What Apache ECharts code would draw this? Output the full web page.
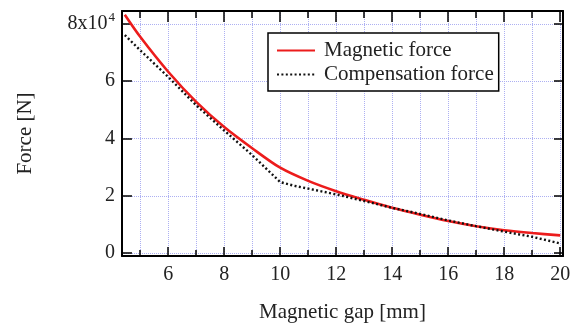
<!DOCTYPE html>
<html>
<head>
<meta charset="utf-8">
<script src="https://cdn.jsdelivr.net/npm/echarts@6/dist/echarts.min.js"></script>
<style>
  html, body { margin: 0; padding: 0; background: #fff; }
  #chart { width: 576px; height: 325px; }
</style>
</head>
<body>
<div id="chart"></div>
<script>
  // values in units of 10^4 N
  var magneticGap = [4.45, 5, 6, 7, 8, 9, 10, 11, 12, 13, 14, 15, 16, 17, 18, 19, 20];
  var magneticForce = [8.32, 7.55, 6.33, 5.28, 4.40, 3.66, 2.98, 2.52, 2.16, 1.86, 1.58, 1.34, 1.12, 0.94, 0.80, 0.70, 0.62];

  var compGap = [4.45, 5, 6, 7, 8, 9, 9.5, 10, 10.5, 11, 12, 13, 14, 15, 16, 17, 18, 19, 20];
  var compForce = [7.61, 7.08, 6.15, 5.16, 4.28, 3.42, 2.95, 2.48, 2.35, 2.25, 2.05, 1.82, 1.58, 1.37, 1.14, 0.94, 0.75, 0.57, 0.34];

  var xMajorTicks = [6, 8, 10, 12, 14, 16, 18, 20];
  var xAllTicks = [5, 6, 7, 8, 9, 10, 11, 12, 13, 14, 15, 16, 17, 18, 19, 20];
  var yTicks = [0, 2, 4, 6, 8];

  var font = 'Liberation Serif';
  var gridColor = '#adb0f2';
  var X_MIN = 4.35, X_MAX = 20.1, Y_MIN = -0.1, Y_MAX = 8.45;
  var gridRect = { left: 122, right: 13, top: 11, bottom: 69, outerBoundsMode: 'none' };

  function pairs(xs, ys) {
    return xs.map(function(x, i) { return [x, ys[i]]; });
  }

  // plain axis: frame line + inside ticks, no labels
  function frameAxis(kind, pos, grid, ticks, len, showLine) {
    var ax = {
      type: 'value', position: pos, gridIndex: grid,
      min: kind === 'x' ? X_MIN : Y_MIN,
      max: kind === 'x' ? X_MAX : Y_MAX,
      axisLine: { show: showLine, onZero: false, lineStyle: { color: '#000', width: 2 } },
      axisTick: { show: true, inside: true, length: len, customValues: ticks,
        lineStyle: { color: '#000', width: 1.5 } },
      axisLabel: { show: false },
      splitLine: { show: false }
    };
    return ax;
  }

  var xBottom = frameAxis('x', 'bottom', 0, xAllTicks, 6, true);
  xBottom.name = 'Magnetic gap [mm]';
  xBottom.nameLocation = 'middle';
  xBottom.nameGap = 46;
  xBottom.nameTextStyle = { fontFamily: font, fontSize: 21, color: '#222' };
  xBottom.axisLabel = { show: true, customValues: xMajorTicks, margin: 9,
    fontFamily: font, fontSize: 20, color: '#222' };
  xBottom.splitLine = { show: true, lineStyle: { color: gridColor, type: 'dotted', width: 1 } };

  var yLeft = frameAxis('y', 'left', 0, yTicks, 10, true);
  yLeft.name = 'Force [N]';
  yLeft.nameLocation = 'middle';
  yLeft.nameGap = 86;
  yLeft.nameRotate = 90;
  yLeft.nameTextStyle = { fontFamily: font, fontSize: 21, color: '#222' };
  yLeft.axisLabel = {
    show: true, customValues: yTicks, margin: 7,
    fontFamily: font, fontSize: 20, color: '#222',
    formatter: function(v) { return v === 8 ? '8x10{sup|4}' : String(v); },
    rich: { sup: { fontFamily: font, fontSize: 13, color: '#222', verticalAlign: 'top', padding: [0, 0, 12, 1] } }
  };
  yLeft.splitLine = { show: true, lineStyle: { color: gridColor, type: 'dotted', width: 1 } };

  var chart = echarts.init(document.getElementById('chart'));
  chart.setOption({
    animation: false,
    backgroundColor: '#fff',
    grid: [Object.assign({}, gridRect), Object.assign({}, gridRect)],
    legend: {
      orient: 'vertical',
      left: 268, top: 33,
      padding: [7, 5, 6, 8],
      itemGap: 3,
      itemWidth: 38, itemHeight: 14,
      borderColor: '#000', borderWidth: 1.5,
      backgroundColor: '#fff',
      itemStyle: { opacity: 0 },
      textStyle: { fontFamily: font, fontSize: 21, color: '#222', padding: [0, 0, 0, 4] },
      data: ['Magnetic force', 'Compensation force']
    },
    xAxis: [
      xBottom,
      frameAxis('x', 'top', 0, xAllTicks, 7, true),
      frameAxis('x', 'bottom', 1, xMajorTicks, 9, false),
      frameAxis('x', 'top', 1, xMajorTicks, 11, false)
    ],
    yAxis: [
      yLeft,
      frameAxis('y', 'right', 0, yTicks, 9, true),
      frameAxis('y', 'left', 1, [], 0, false)
    ],
    series: [
      {
        name: 'Magnetic force', type: 'line', xAxisIndex: 0, yAxisIndex: 0,
        smooth: 0.3, showSymbol: false, symbol: 'none',
        lineStyle: { color: '#ec1c1c', width: 2.6 },
        itemStyle: { color: '#ec1c1c' },
        data: pairs(magneticGap, magneticForce),
        z: 3
      },
      {
        name: 'Compensation force', type: 'line', xAxisIndex: 0, yAxisIndex: 0,
        smooth: false, showSymbol: false, symbol: 'none',
        lineStyle: { color: '#111', width: 2.4, type: [2, 2.4] },
        itemStyle: { color: '#111' },
        data: pairs(compGap, compForce),
        z: 4
      }
    ]
  });
</script>
</body>
</html>
